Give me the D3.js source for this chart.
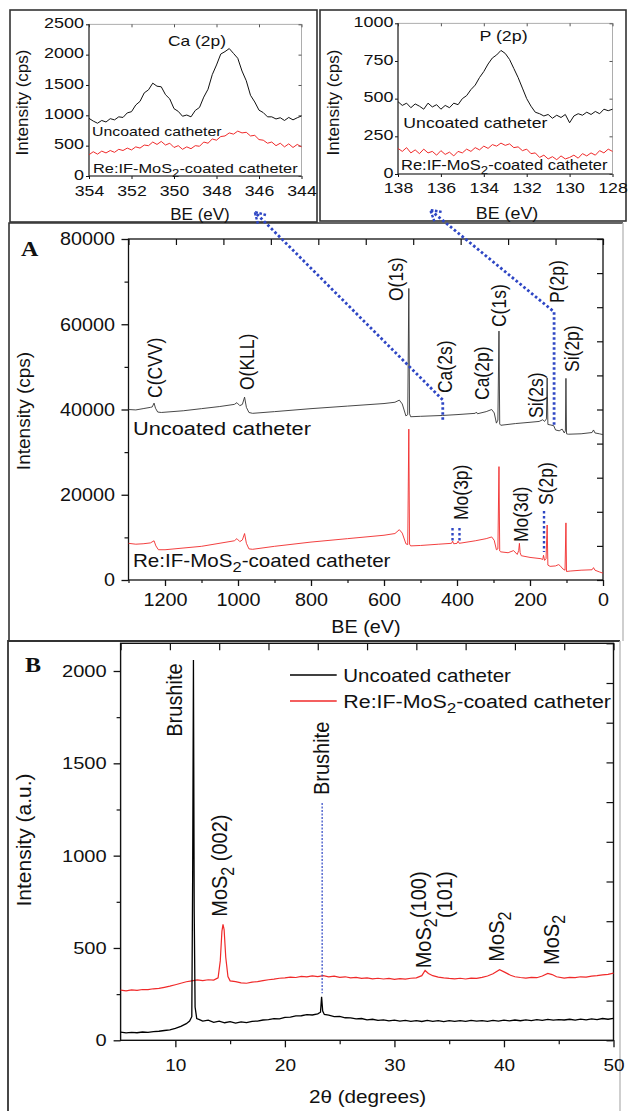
<!DOCTYPE html>
<html><head><meta charset="utf-8">
<script src="https://cdn.jsdelivr.net/npm/d3@7"></script>
<style>body{margin:0;background:#fff}svg{display:block}</style>
</head><body><svg id="c" width="628" height="1111"></svg>
<script>
// ================= DATA =================
// Inset 1: Ca(2p) high-resolution spectrum
const caBE = d3.range(0,51).map(i => +(354 - i*0.2).toFixed(1));
const caUncoated = [950,905,870,915,890,945,925,975,965,1040,1060,1170,1230,1370,1420,1530,1480,1470,1340,1270,1110,1065,985,1005,975,1080,1130,1300,1430,1670,1830,2010,2050,2100,2020,1940,1730,1570,1330,1220,1085,1045,975,975,940,960,915,965,925,960,990];
const caCoated = [350,400,360,410,380,420,390,440,420,460,430,480,460,510,500,560,520,570,510,540,470,500,440,480,450,500,490,560,540,610,590,650,660,710,690,740,710,720,660,670,600,590,540,560,500,540,480,530,470,520,480];
const caTicksX = [354,352,350,348,346,344];
const caTicksY = [0,500,1000,1500,2000,2500];

// Inset 2: P(2p) high-resolution spectrum
const pBE = d3.range(0,51).map(i => +(138 - i*0.2).toFixed(1));
const pUncoated = [480,455,470,440,465,450,430,470,445,460,430,455,440,470,460,500,520,560,590,640,680,730,770,790,820,800,760,700,640,570,500,450,410,400,385,395,370,390,375,395,340,385,400,390,410,395,415,400,430,420,430];
const pCoated = [170,150,175,140,160,135,165,140,150,125,155,130,145,120,150,140,165,150,175,160,185,170,195,185,205,190,200,175,180,155,165,135,140,110,125,100,115,95,120,100,110,125,105,135,120,140,125,155,140,165,150];
const pTicksX = [138,136,134,132,130,128];
const pTicksY = [0,250,500,750,1000];

// Panel A: XPS survey
const surveyUncBE  = [1300,1280,1260,1240,1235,1230,1226,1220,1210,1150,1100,1050,1010,1003,995,988,982,977,970,960,900,800,700,600,570,558,550,540,535,532,530,527,500,440,400,350,347,344,320,305,298,292,288,285,283,280,240,200,175,165,160,155,153,151,145,135,130,120,112,106,103,101.5,100,95,60,30,26,22,10,0];
const surveyUncCps = [40000,39900,40200,40500,40600,41500,40300,39400,39300,39700,40200,40700,41200,41600,40900,41200,42900,40500,39300,39100,39500,40200,40800,41400,41700,42200,41300,38500,38800,68400,39000,38300,38400,38600,38800,39100,39400,39000,39500,40000,39200,36800,37500,58400,36600,36300,36700,37000,37200,37600,37200,37800,47400,36500,36400,36200,35200,35000,35400,34500,35000,47300,34300,34200,34300,34600,35200,34500,34300,34100];
const surveyCoatBE  = [1300,1280,1260,1240,1230,1225,1218,1200,1100,1010,1003,995,988,982,977,970,960,900,800,700,600,570,558,550,540,535,532,530,527,500,450,415,412,409,400,397,394,350,320,305,298,292,288,285,283,280,260,245,235,231,229,227,224,200,170,165,163,160,156,153,151,145,130,122,118,110,104,101.5,100,90,60,30,26,22,10,0];
const surveyCoatCps = [8600,8400,8500,8700,9200,8000,7100,7100,7900,9200,9700,9000,9400,10900,8600,7300,7200,7900,8900,9700,10500,10900,11800,11000,8500,8300,35400,8400,8000,8100,8400,8600,9100,8500,8600,9100,8600,9200,9700,10100,9300,7100,7300,26600,6800,6600,6400,6900,6000,6900,8600,6400,5700,5300,5000,4800,5800,4600,5000,12900,3500,3200,3300,3600,3400,2600,2300,13400,2000,2100,2300,2400,2900,2300,1900,1600];
const surveyTicksX = [0,200,400,600,800,1000,1200];
const surveyTicksY = [0,20000,40000,60000,80000];
const surveyPeakNames = ["C(CVV)","O(KLL)","O(1s)","Ca(2s)","Ca(2p)","C(1s)","Si(2s)","P(2p)","Si(2p)","Mo(3p)","Mo(3d)","S(2p)"];
const surveyPeakBE    = [1224.7,972.6,564.4,431.5,327.4,282.2,180.8,123.3,82.2,386.3,221.9,153.4];
const surveyPeakCps   = [42700,44570,65450,43870,42230,59350,38000,64980,48800,14080,8915,17600];

// Panel B: XRD
const xrdUncTheta = [5,5.5,6,6.5,7,7.5,8,8.5,9,9.5,10,10.5,11,11.3,11.5,11.58,11.65,11.72,11.8,11.95,12.2,12.5,13,13.5,14,14.5,15,15.5,16,16.5,17,17.5,18,18.5,19,19.5,20,20.5,21,21.5,22,22.5,23,23.25,23.35,23.45,23.6,24,24.5,25,25.5,26,26.5,27,27.5,28,28.5,29,29.5,30,30.5,31,31.5,32,32.5,33,33.5,34,34.5,35,35.5,36,36.5,37,37.5,38,38.5,39,39.5,40,40.5,41,41.5,42,42.5,43,43.5,44,44.5,45,45.5,46,46.5,47,47.5,48,48.5,49,49.5,50];
const xrdUncoated = [44,40,43,41,45,43,47,49,53,57,65,75,90,104,128,900,2060,700,180,118,112,104,109,97,104,95,101,93,100,96,103,104,110,112,117,116,124,125,132,133,139,137,143,152,236,158,140,136,128,129,122,121,116,118,111,114,108,111,105,109,104,108,103,107,102,108,103,106,101,106,102,107,103,108,104,107,103,108,104,109,105,110,106,111,107,112,108,113,109,112,110,114,109,115,111,116,112,118,114,119];
const xrdCoatTheta = [5,5.5,6,6.5,7,7.5,8,8.5,9,9.5,10,10.5,11,11.5,12,12.5,13,13.5,13.9,14.1,14.25,14.35,14.45,14.6,14.8,15,15.5,16,16.5,17,17.5,18,18.5,19,19.5,20,20.5,21,21.5,22,22.5,23,23.5,24,24.5,25,25.5,26,26.5,27,27.5,28,28.5,29,29.5,30,30.5,31,31.5,32,32.5,32.8,33.1,33.5,34,34.5,35,35.5,36,36.5,37,37.5,38,38.5,39,39.6,40.1,40.6,41,41.5,42,42.5,43,43.5,44,44.4,44.8,45.5,46,46.5,47,47.5,48,48.5,49,49.5,50];
const xrdCoated = [272,268,273,270,275,274,279,281,287,293,301,309,317,322,327,323,328,326,338,430,590,628,600,450,345,322,318,311,309,315,318,323,328,331,336,338,342,340,346,344,349,345,350,344,347,341,344,338,341,335,338,333,336,332,335,330,334,331,336,338,350,378,362,350,342,338,335,333,336,332,337,335,341,348,360,382,368,352,344,340,337,341,339,348,362,356,344,337,341,339,344,342,348,350,354,357,364];
const xrdTicksX = [10,20,30,40,50];
const xrdTicksY = [0,500,1000,1500,2000];
const xrdSeriesNames = ["Uncoated catheter","Re:IF-MoS\u2082-coated catheter"];

// ================= HELPERS =================
const FONT = '"Liberation Sans", Arial, Helvetica, sans-serif';
const RED = "#f02a2a", BLUE = "#2e46c4";
const svg = d3.select("#c");

function addParts(t, parts, size){
  const P = Array.isArray(parts) ? parts : [parts];
  let pend = 0;
  P.forEach(p => {
    if (typeof p === "string") { const ts = t.append("tspan").text(p); if (pend) { ts.attr("dy", pend); pend = 0; } }
    else { t.append("tspan").attr("font-size", size*0.8).attr("dy", size*0.3).text(p.sub); pend = -size*0.3; }
  });
}
function txt(g, x, y, parts, o){
  o = o || {};
  const size = o.size || 18, sx = o.sx || 1;
  const t = g.append("text")
    .attr("transform", `translate(${x},${y}) scale(${sx},1)` + (o.rot ? ` rotate(${o.rot})` : ""))
    .attr("font-size", size).attr("font-family", o.family || FONT)
    .attr("font-weight", o.weight || "normal")
    .attr("text-anchor", o.anchor || "start").attr("fill", o.fill || "#111");
  addParts(t, parts, size);
  return t;
}
function axisG(g, axis, tx, ty, o){
  o = o || {};
  const a = g.append("g").attr("transform", `translate(${tx},${ty})`).call(axis);
  a.select(".domain").remove();
  a.selectAll(".tick line").attr("stroke", o.color || "#111").attr("stroke-width", o.width || 1);
  const sx = o.sx || 1;
  a.selectAll(".tick text").attr("font-size", o.size || 14).attr("font-family", FONT).attr("fill", "#111")
    .each(function(){ const t = d3.select(this); const x = +t.attr("x") || 0; t.attr("x", x/sx).attr("transform", `scale(${sx},1)`); });
  if (o.dy) a.selectAll(".tick text").attr("dy", o.dy);
  return a;
}
const none = () => "";

// ================= PANEL BORDERS =================
const B = svg.append("g").attr("fill","none");
B.append("rect").attr("x",10).attr("y",10).attr("width",307).attr("height",212).attr("stroke","#333").attr("stroke-width",1.6);
B.append("rect").attr("x",320).attr("y",10).attr("width",306).attr("height",211).attr("stroke","#333").attr("stroke-width",1.6);
B.append("path").attr("d","M9,641 V223 H623").attr("stroke","#333").attr("stroke-width",1.6);
B.append("path").attr("d","M623,223 V641").attr("stroke","#bbb").attr("stroke-width",1.4);
B.append("path").attr("d","M8,1111 V641 H620").attr("stroke","#333").attr("stroke-width",1.8);
B.append("path").attr("d","M620,641 V1111").attr("stroke","#bbb").attr("stroke-width",1.4);

// ================= INSET GENERIC =================
function inset(cfg){
  const g = svg.append("g");
  const x = d3.scaleLinear().domain(cfg.xd).range(cfg.xr);
  const y = d3.scaleLinear().domain(cfg.yd).range(cfg.yr);
  const [x0,x1] = cfg.xr, [y0,y1] = cfg.yr;
  g.append("rect").attr("x",x0).attr("y",y1).attr("width",x1-x0).attr("height",y0-y1).attr("fill","none").attr("stroke","#999").attr("stroke-width",0.8);
  axisG(g, d3.axisLeft(y).tickValues(cfg.ty).tickSize(3).tickPadding(cfg.padL).tickFormat(d3.format("d")), x0, 0, {size:14.5, sx:1.24, dy:"0.22em"});
  axisG(g, d3.axisBottom(x).tickValues(cfg.tx).tickSize(3).tickPadding(cfg.padB).tickFormat(d3.format("d")), 0, y0, {size:14.5, sx:1.22});
  axisG(g, d3.axisLeft(y).tickValues(cfg.ty).tickSize(3).tickFormat(none), x1, 0, {color:"#555"});
  axisG(g, d3.axisBottom(x).tickValues(cfg.tx).tickSize(3).tickFormat(none), 0, y1, {color:"#555"});
  g.append("line").attr("x1",x0).attr("x2",x0).attr("y1",y0).attr("y2",y1).attr("stroke","#222").attr("stroke-width",1.1);
  g.append("line").attr("x1",x0).attr("x2",x1).attr("y1",y0).attr("y2",y0).attr("stroke","#222").attr("stroke-width",1.1);
  const line = d3.line().x(d => x(d[0])).y(d => y(d[1]));
  g.append("path").attr("d", line(d3.zip(cfg.be, cfg.coated))).attr("fill","none").attr("stroke",RED).attr("stroke-width",1);
  g.append("path").attr("d", line(d3.zip(cfg.be, cfg.unc))).attr("fill","none").attr("stroke","#111").attr("stroke-width",1);
  txt(g, x(cfg.title[1]), y(cfg.title[2]), cfg.title[0], {size:15, sx:cfg.titleSx, anchor:"middle"});
  txt(g, x(cfg.lab1[0]), y(cfg.lab1[1]), "Uncoated catheter", {size:cfg.labSize, sx:cfg.lab1[2]});
  txt(g, x(cfg.lab2[0]), y(cfg.lab2[1]), ["Re:IF-MoS",{sub:"2"},"-coated catheter"], {size:cfg.labSize, sx:cfg.lab2[2]});
  txt(g, cfg.ytl[0], cfg.ytl[1], "Intensity (cps)", {size:17, rot:-90, anchor:"middle"});
  txt(g, cfg.xtl[0], cfg.xtl[1], "BE (eV)", {size:17, sx:cfg.xtl[2], anchor:"middle"});
  return {x, y};
}
const ins1 = inset({xd:[354,344], xr:[89,301.5], yd:[0,2500], yr:[176,24.3], tx:caTicksX, ty:caTicksY, padL:2, padB:6.5,
  be:caBE, unc:caUncoated, coated:caCoated, title:["Ca (2p)",348.92,2150], titleSx:1.16,
  lab1:[353.86,659,1.22], lab2:[353.81,49,1.26], labSize:13, ytl:[28,102.5], xtl:[200,220,1.0]});
const ins2 = inset({xd:[138,128], xr:[398,612.5], yd:[0,1000], yr:[174,23.3], tx:pTicksX, ty:pTicksY, padL:1.5, padB:6,
  be:pBE, unc:pUncoated, coated:pCoated, title:["P (2p)",133.08,882], titleSx:1.19,
  lab1:[137.75,303,1.26], lab2:[137.86,26.5,1.18], labSize:14, ytl:[339,102.5], xtl:[507,219,1.05]});

// ================= PANEL A: SURVEY =================
const gA = svg.append("g");
const xA = d3.scaleLinear().domain([1300,0]).range([128.5,603]);
const yA = d3.scaleLinear().domain([0,80000]).range([580,239]);
gA.append("rect").attr("x",128.5).attr("y",239).attr("width",603-128.5).attr("height",580-239).attr("fill","none").attr("stroke","#111").attr("stroke-width",1.3);
axisG(gA, d3.axisLeft(yA).tickValues(surveyTicksY).tickSize(7).tickPadding(6.5).tickFormat(d3.format("d")), 128.5, 0, {size:18, sx:1.1, width:1.3});
axisG(gA, d3.axisLeft(yA).tickValues([10000,30000,50000,70000]).tickSize(4).tickFormat(none), 128.5, 0, {width:1.2});
axisG(gA, d3.axisBottom(xA).tickValues(surveyTicksX).tickSize(6).tickPadding(7.2).tickFormat(d3.format("d")), 0, 580, {size:18, sx:1.1, width:1.3});
axisG(gA, d3.axisBottom(xA).tickValues([100,300,500,700,900,1100,1300]).tickSize(3).tickFormat(none), 0, 580, {width:1.2});
axisG(gA, d3.axisBottom(xA).tickValues(d3.range(0,1301,130)).tickSize(6).tickFormat(none), 0, 239, {width:1.2});
axisG(gA, d3.axisLeft(yA).tickValues(d3.range(0,80001,8000)).tickSize(6).tickFormat(none), 603, 0, {width:1.2});
const lineA = d3.line().x(d => xA(d[0])).y(d => yA(d[1]));
gA.append("path").attr("d", lineA(d3.zip(surveyCoatBE, surveyCoatCps))).attr("fill","none").attr("stroke",RED).attr("stroke-width",0.9);
gA.append("path").attr("d", lineA(d3.zip(surveyUncBE, surveyUncCps))).attr("fill","none").attr("stroke","#333").attr("stroke-width",0.9);
surveyPeakNames.forEach((n,i) => txt(gA, xA(surveyPeakBE[i]) + 6, yA(surveyPeakCps[i]), n, {size:17.5, sx:1.15, rot:-90}));
txt(gA, xA(1287.7), yA(34020), "Uncoated catheter", {size:18, sx:1.21});
txt(gA, xA(1287.7), yA(3050), ["Re:IF-MoS",{sub:"2"},"-coated catheter"], {size:18, sx:1.145});
txt(gA, 30, 411, "Intensity (cps)", {size:19, rot:-90, anchor:"middle"});
txt(gA, 366, 633, "BE (eV)", {size:18, sx:1.1, anchor:"middle"});
txt(gA, 21, 256, "A", {size:20, sx:1.2, weight:"bold", family:'"Liberation Serif","Times New Roman",serif'});

// blue dotted connectors
const dotted = (pts, w) => gA.append("path").attr("d", d3.line()(pts)).attr("fill","none").attr("stroke",BLUE).attr("stroke-width",w||2.8).attr("stroke-dasharray","2.6 2.4");
function arrowHead(p, q){ // tip q, from p
  const dx = q[0]-p[0], dy = q[1]-p[1], L = Math.hypot(dx,dy), ux = dx/L, uy = dy/L, a = Math.PI/6, s = 12;
  const w = sgn => [q[0] - s*(ux*Math.cos(a) - sgn*uy*Math.sin(a)), q[1] - s*(uy*Math.cos(a) + sgn*ux*Math.sin(a))];
  gA.append("path").attr("d", d3.line()([w(1), q, w(-1)])).attr("fill","none").attr("stroke",BLUE).attr("stroke-width",2.4).attr("stroke-dasharray","2.6 1.6");
}
const c1 = [[xA(439), yA(37600)], [xA(439), yA(42250)], [ins1.x(346.2), ins1.y(-593)]];
dotted(c1); arrowHead(c1[1], c1[2]);
const c2 = [[xA(134), yA(36400)], [xA(134), yA(62900)], [ins2.x(136.5), ins2.y(-239)]];
dotted(c2); arrowHead(c2[1], c2[2]);
dotted([[xA(412.3), yA(12200)], [xA(412.3), yA(8900)]], 2.4);
dotted([[xA(393.2), yA(12200)], [xA(393.2), yA(8900)]], 2.4);
dotted([[xA(161.6), yA(16200)], [xA(161.6), yA(6570)]], 2.4);

// ================= PANEL B: XRD =================
const gB = svg.append("g");
const xB = d3.scaleLinear().domain([5,50]).range([120.6,613.5]);
const yB = d3.scaleLinear().domain([0,2150]).range([1040.3,643.3]);
gB.append("rect").attr("x",120.6).attr("y",643.3).attr("width",613.5-120.6).attr("height",1040.3-643.3).attr("fill","none").attr("stroke","#111").attr("stroke-width",1.4);
axisG(gB, d3.axisLeft(yB).tickValues(xrdTicksY).tickSize(7).tickPadding(7).tickFormat(d3.format("d")), 120.6, 0, {size:17, sx:1.18, width:1.3});
axisG(gB, d3.axisLeft(yB).tickValues([250,750,1250,1750]).tickSize(4).tickFormat(none), 120.6, 0, {width:1.2});
axisG(gB, d3.axisBottom(xB).tickValues(xrdTicksX).tickSize(7).tickPadding(11.7).tickFormat(d3.format("d")), 0, 1040.3, {size:17, sx:1.12, width:1.3});
axisG(gB, d3.axisBottom(xB).tickValues([15,25,35,45]).tickSize(4).tickFormat(none), 0, 1040.3, {width:1.2});
axisG(gB, d3.axisBottom(xB).tickValues(d3.range(0,11).map(i => 5+4.5*i)).tickSize(7).tickFormat(none), 0, 643.3, {width:1.2});
axisG(gB, d3.axisLeft(yB).tickValues(d3.range(0,11).map(i => 215*i)).tickSize(7).tickFormat(none), 613.5, 0, {width:1.2});
const lineB = d3.line().x(d => xB(d[0])).y(d => yB(d[1]));
gB.append("path").attr("d", lineB(d3.zip(xrdCoatTheta, xrdCoated))).attr("fill","none").attr("stroke",RED).attr("stroke-width",1.2);
gB.append("path").attr("d", lineB(d3.zip(xrdUncTheta, xrdUncoated))).attr("fill","none").attr("stroke","#000").attr("stroke-width",1.3);
// brushite dotted guide
gB.append("line").attr("x1",xB(23.4)).attr("x2",xB(23.4)).attr("y1",yB(1285)).attr("y2",yB(255))
  .attr("stroke",BLUE).attr("stroke-width",1.2).attr("stroke-dasharray","2 1.5");
// peak labels
const rl = {size:20, sx:1.1, rot:-90};
txt(gB, xB(10.06)+6, yB(1644), "Brushite", rl);
txt(gB, xB(14.2)+6, yB(669), ["MoS",{sub:"2"}," (002)"], rl);
txt(gB, xB(23.48)+6, yB(1328), "Brushite", rl);
txt(gB, xB(32.75)+6, yB(390), ["MoS",{sub:"2"}], rl);
txt(gB, xB(32.34)+6, yB(662), "(100)", rl);
txt(gB, xB(34.7)+6, yB(662), "(101)", rl);
txt(gB, xB(39.45)+6, yB(426), ["MoS",{sub:"2"}], rl);
txt(gB, xB(44.45)+6, yB(408), ["MoS",{sub:"2"}], rl);
// legend
gB.append("line").attr("x1",290).attr("x2",336.7).attr("y1",675).attr("y2",675).attr("stroke","#000").attr("stroke-width",1.3);
gB.append("line").attr("x1",290).attr("x2",336.7).attr("y1",701).attr("y2",701).attr("stroke",RED).attr("stroke-width",1.3);
txt(gB, 343.3, 681.5, xrdSeriesNames[0], {size:18, sx:1.14});
txt(gB, 343.3, 708, ["Re:IF-MoS",{sub:"2"},"-coated catheter"], {size:18, sx:1.19});
txt(gB, 31, 840, "Intensity (a.u.)", {size:21, rot:-90, anchor:"middle"});
txt(gB, 367.5, 1103, "2\u03b8 (degrees)", {size:18, sx:1.15, anchor:"middle"});
txt(gB, 25, 672, "B", {size:20, sx:1.2, weight:"bold", family:'"Liberation Serif","Times New Roman",serif'});
</script></body></html>
